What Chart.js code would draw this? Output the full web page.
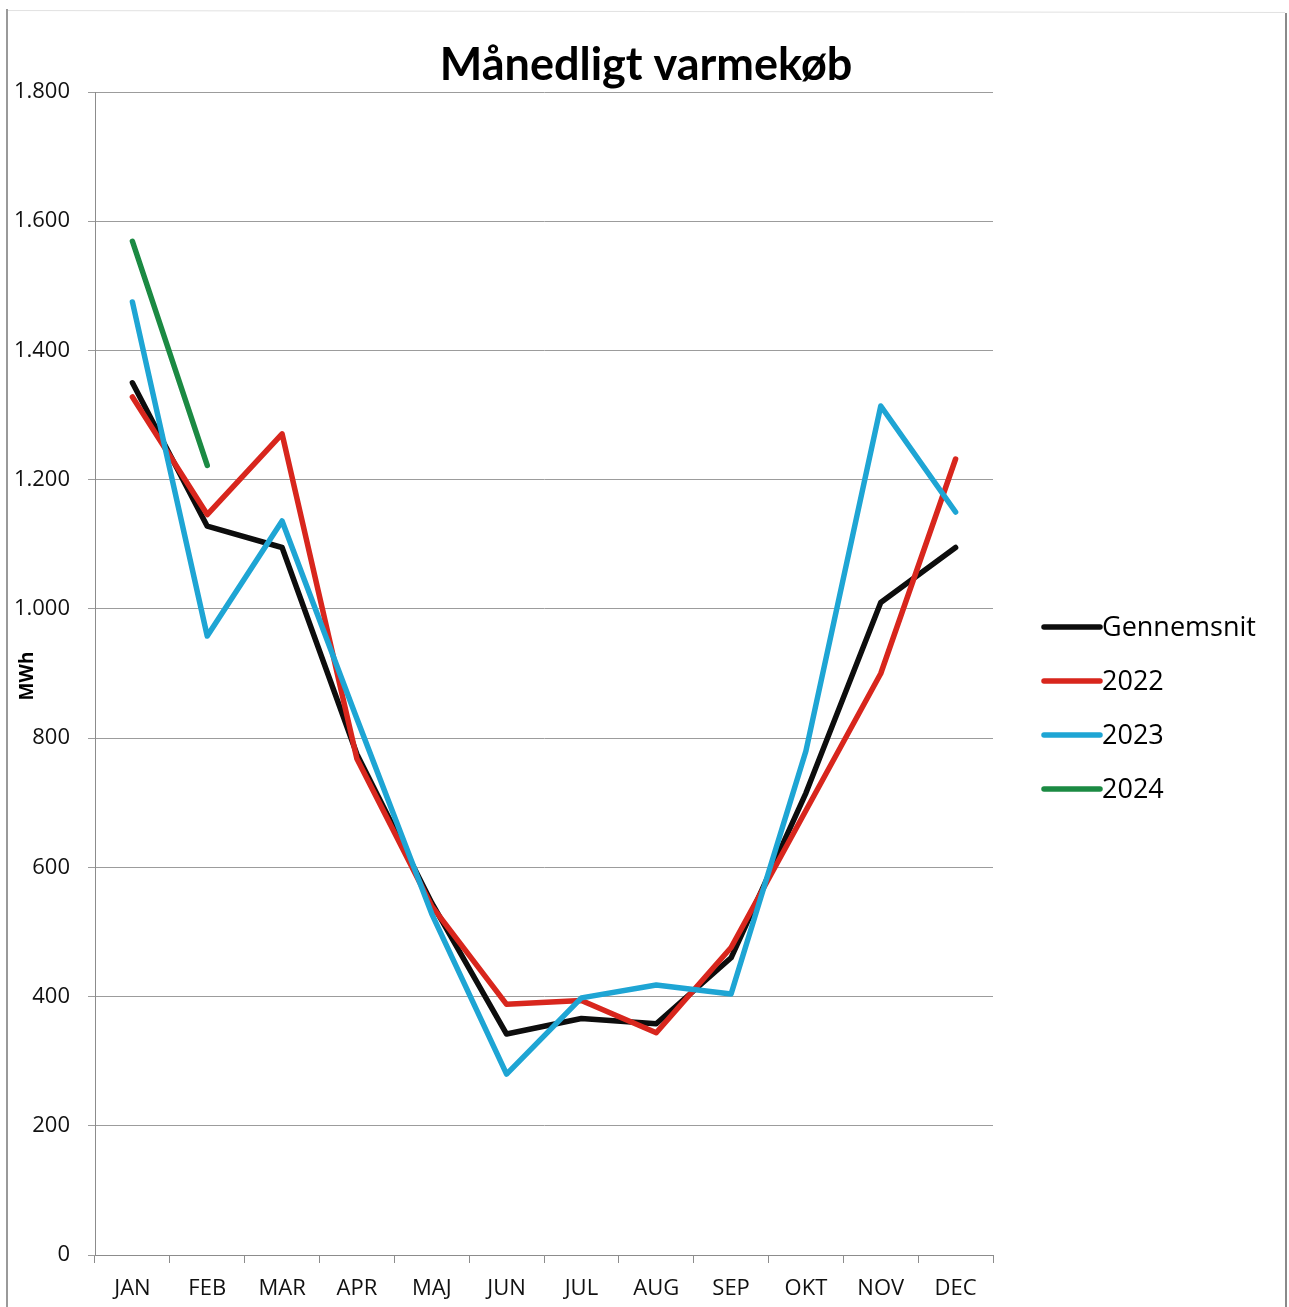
<!DOCTYPE html>
<html>
<head>
<meta charset="utf-8">
<script src="https://cdn.jsdelivr.net/npm/chart.js@4/dist/chart.umd.min.js"></script>
<style>
  html, body { margin: 0; padding: 0; background: #ffffff; }
  #wrap { position: relative; width: 1289px; height: 1307px; }
  canvas { display: block; }
</style>
</head>
<body>
<div id="wrap"><canvas id="c" width="1289" height="1307"></canvas></div>
<script>
const chartTitle = "Månedligt varmekøb";
const yAxisTitle = "MWh";
const months = ["JAN", "FEB", "MAR", "APR", "MAJ", "JUN", "JUL", "AUG", "SEP", "OKT", "NOV", "DEC"];
const seriesNames = ["Gennemsnit", "2022", "2023", "2024"];
const gennemsnit = [1350, 1128, 1095, 775, 545, 342, 366, 358, 460, 715, 1010, 1095];
const y2022 = [1328, 1146, 1271, 768, 540, 388, 394, 344, 476, 688, 900, 1232];
const y2023 = [1475, 958, 1136, 830, 528, 280, 398, 418, 404, 780, 1314, 1150];
const y2024 = [1569, 1222, null, null, null, null, null, null, null, null, null, null];
const seriesColors = ["#0d0d0d", "#d8261d", "#1ea5d4", "#1b8a43"];
const yTicks = [0, 200, 400, 600, 800, 1000, 1200, 1400, 1600, 1800];

function fmtDa(v) {
  return String(v).replace(/\B(?=(\d{3})+(?!\d))/g, ".");
}

const seriesData = [gennemsnit, y2022, y2023, y2024];
const datasets = seriesNames.map((name, i) => ({
  label: name,
  data: seriesData[i],
  borderColor: seriesColors[i],
  backgroundColor: seriesColors[i],
  borderWidth: 5.5,
  pointRadius: 0,
  pointHoverRadius: 0,
  tension: 0,
  fill: false,
  spanGaps: false,
  borderJoinStyle: "round",
  borderCapStyle: "round",
  order: seriesNames.length - i
}));

const framePlugin = {
  id: "frame",
  beforeDraw(chart) {
    const ctx = chart.ctx;
    ctx.save();
    ctx.fillStyle = "#ffffff";
    ctx.fillRect(0, 0, chart.width, chart.height);
    ctx.strokeStyle = "#e2e2e2";
    ctx.lineWidth = 1;
    ctx.beginPath();
    ctx.moveTo(7, 10.5); ctx.lineTo(1285, 12.5);
    ctx.stroke();
    ctx.strokeStyle = "#9a9a9a";
    ctx.lineWidth = 2;
    ctx.beginPath();
    ctx.moveTo(7, 9); ctx.lineTo(7, 1307);
    ctx.stroke();
    ctx.strokeStyle = "#8a8a8a";
    ctx.beginPath();
    ctx.moveTo(1286, 13); ctx.lineTo(1286, 1307);
    ctx.stroke();
    ctx.restore();
  }
};

const textPlugin = {
  id: "texts",
  afterDraw(chart) {
    const ctx = chart.ctx;
    ctx.save();
    // title
    ctx.fillStyle = "#000";
    ctx.font = "bold 45px Lato, 'Open Sans', sans-serif";
    ctx.textAlign = "center";
    ctx.textBaseline = "middle";
    ctx.fillText(chartTitle, 646, 65);
    // y axis title
    ctx.translate(28, 676);
    ctx.rotate(-Math.PI / 2);
    ctx.font = "bold 19px 'Open Sans', sans-serif";
    ctx.fillText(yAxisTitle, 0, 0);
    ctx.restore();
  }
};

const legendPlugin = {
  id: "sideLegend",
  afterDraw(chart) {
    const ctx = chart.ctx;
    const x0 = 1044, x1 = 1100, tx = 1102;
    const ys = [627, 681, 735, 789];
    ctx.save();
    chart.data.datasets.forEach((ds, i) => {
      const y = ys[i];
      ctx.strokeStyle = ds.borderColor;
      ctx.lineWidth = 5.5;
      ctx.lineCap = "round";
      ctx.beginPath();
      ctx.moveTo(x0, y);
      ctx.lineTo(x1, y);
      ctx.stroke();
      ctx.fillStyle = "#000";
      ctx.font = "27px 'Open Sans', sans-serif";
      ctx.textAlign = "left";
      ctx.textBaseline = "middle";
      ctx.fillText(ds.label, tx, y + 1);
    });
    ctx.restore();
  }
};

new Chart(document.getElementById("c"), {
  type: "line",
  data: { labels: months, datasets: datasets },
  options: {
    responsive: false,
    animation: false,
    devicePixelRatio: 1,
    layout: { padding: { left: 0, right: 296, top: 92, bottom: 0 } },
    plugins: {
      legend: { display: false },
      tooltip: { enabled: false },
      title: { display: false }
    },
    scales: {
      x: {
        type: "category",
        offset: true,
        grid: {
          display: true,
          drawOnChartArea: false,
          drawTicks: true,
          tickLength: 8,
          offset: true,
          color: "#8c8c8c",
          lineWidth: 1
        },
        border: { display: true, color: "#8c8c8c", width: 1 },
        ticks: {
          color: "#111",
          font: { family: "'Open Sans', sans-serif", size: 22 },
          padding: 13,
          maxRotation: 0,
          autoSkip: false
        },
        afterFit(scale) { scale.height = 52; }
      },
      y: {
        type: "linear",
        min: 0,
        max: 1800,
        afterBuildTicks(scale) { scale.ticks = yTicks.map(v => ({ value: v })); },
        grid: {
          display: true,
          drawOnChartArea: true,
          drawTicks: true,
          tickLength: 7,
          color: "#9c9c9c",
          lineWidth: 1
        },
        border: { display: true, color: "#8c8c8c", width: 1 },
        ticks: {
          color: "#111",
          font: { family: "'Open Sans', sans-serif", size: 22 },
          padding: 18,
          callback: (v) => fmtDa(v)
        },
        afterFit(scale) { scale.width = 95; }
      }
    }
  },
  plugins: [framePlugin, textPlugin, legendPlugin]
});
</script>
</body>
</html>
